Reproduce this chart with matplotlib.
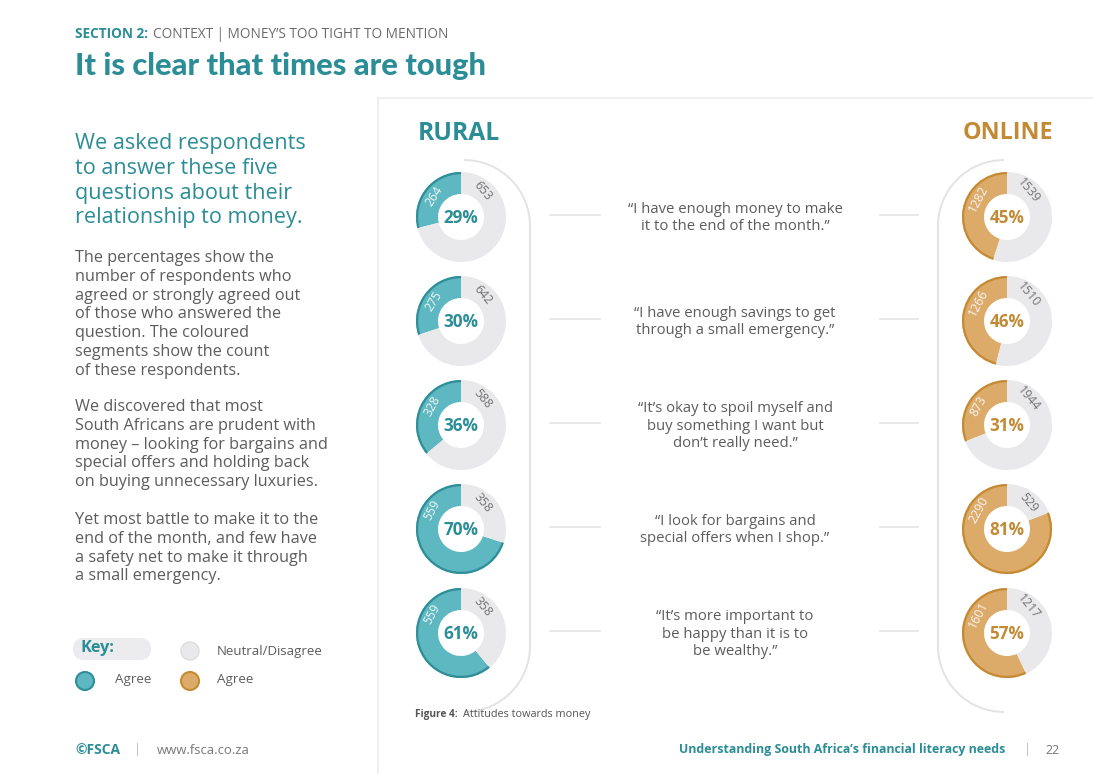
import matplotlib.pyplot as plt
from matplotlib.patches import Arc, Circle, FancyBboxPatch
import numpy as np

W, H = 1093, 774
plt.rcParams['font.family'] = ['Open Sans', 'DejaVu Sans']

# colours
teal = '#5db8c1'
teal_dark = '#2f8e98'
teal_text = '#2b8d96'
gold = '#ddab69'
gold_dark = '#c68a33'
gold_text = '#c28a35'
grey_seg = '#e9e9ec'
grey_text = '#5c5c5c'
line_grey = '#e3e3e3'

# data
questions = [
    ['\u201cI have enough money to make', 'it to the end of the month.\u201d'],
    ['\u201cI have enough savings to get', 'through a small emergency.\u201d'],
    ['\u201cIt\u2019s okay to spoil myself and', 'buy something I want but',
     'don\u2019t really need.\u201d'],
    ['\u201cI look for bargains and', 'special offers when I shop.\u201d'],
    ['\u201cIt\u2019s more important to', 'be happy than it is to',
     'be wealthy.\u201d'],
]
rural_pct = [29, 30, 36, 70, 61]
rural_agree = [264, 275, 328, 559, 559]
rural_neutral = [653, 642, 588, 358, 358]
online_pct = [45, 46, 31, 81, 57]
online_agree = [1282, 1266, 873, 2290, 1601]
online_neutral = [1539, 1510, 1944, 529, 1217]

intro = ['We asked respondents', 'to answer these five',
         'questions about their', 'relationship to money.']
paras = [
    ['The percentages show the', 'number of respondents who',
     'agreed or strongly agreed out', 'of those who answered the',
     'question. The coloured', 'segments show the count',
     'of these respondents.'],
    ['We discovered that most', 'South Africans are prudent with',
     'money \u2013 looking for bargains and', 'special offers and holding back',
     'on buying unnecessary luxuries.'],
    ['Yet most battle to make it to the', 'end of the month, and few have',
     'a safety net to make it through', 'a small emergency.'],
]

# layout (pixel coords, measured from the top)
row_y = [217, 321, 425, 529, 633]
rural_x, online_x = 461, 1007
R, RW = 45, 22


def Y(y):
    return H - y


fig = plt.figure(figsize=(W / 100, H / 100), dpi=100)
ax = fig.add_axes([0, 0, 1, 1])
ax.set_xlim(0, W)
ax.set_ylim(0, H)
renderer = fig.canvas.get_renderer()


def fit(lines, width, **kw):
    # font size that makes the widest line about `width` pixels wide
    w = 0
    for s in lines:
        t = ax.text(0, 0, s, fontsize=10, **kw)
        w = max(w, t.get_window_extent(renderer).width)
        t.remove()
    return 10 * width / w


def block(x, y0, lines, dy, size, **kw):
    for k, s in enumerate(lines):
        ax.text(x, Y(y0 + k * dy), s, fontsize=size, va='center', **kw)


def text_w(x, y, s, width, **kw):
    size = fit([s], width, **{k: v for k, v in kw.items()
                              if k in ('fontweight', 'family')})
    return ax.text(x, Y(y), s, fontsize=size, va='center', **kw)


def donut(cx, cy, pct, n_agree, n_neut, fill, edge, tcol):
    c = (cx, Y(cy))
    ax.pie([pct, 100 - pct], colors=[fill, grey_seg], startangle=90,
           counterclock=True, center=c, radius=R,
           wedgeprops=dict(width=RW, linewidth=0))
    ax.pie([pct, 100 - pct], colors=[edge, 'none'], startangle=90,
           counterclock=True, center=c, radius=R,
           wedgeprops=dict(width=2.2, linewidth=0))
    ax.text(cx, Y(cy + 1), f'{pct}%', ha='center', va='center',
            fontsize=12.3, fontweight='bold', color=tcol)
    rl = R - RW / 2
    a = min(90 + pct * 1.8, 147)
    t = np.radians(a)
    ax.text(cx + rl * np.cos(t), Y(cy) + rl * np.sin(t), str(n_agree),
            rotation=a - 85, ha='center', va='center', fontsize=8.8,
            color='#f6f6f6', rotation_mode='anchor')
    b = 50
    t = np.radians(b)
    ax.text(cx + rl * np.cos(t), Y(cy) + rl * np.sin(t), str(n_neut),
            rotation=b - 100, ha='center', va='center', fontsize=8.8,
            color='#727272', rotation_mode='anchor')


q_size = fit(questions[0], 214)
for i, y in enumerate(row_y):
    donut(rural_x, y, rural_pct[i], rural_agree[i], rural_neutral[i],
          teal, teal_dark, teal_text)
    donut(online_x, y, online_pct[i], online_agree[i], online_neutral[i],
          gold, gold_dark, gold_text)
    n = len(questions[i])
    block(735, y + 1 - (n - 1) * 17.5 / 2, questions[i], 17.5, q_size,
          ha='center', color=grey_text)
    ax.plot([550, 600], [Y(y - 2)] * 2, color=line_grey, lw=1.2)
    ax.plot([880, 918], [Y(y - 2)] * 2, color=line_grey, lw=1.2)

# brackets around donut columns
br = 66
for cx, side in [(rural_x + 3, 1), (online_x - 3, -1)]:
    xv = cx + side * br
    ax.plot([xv, xv], [Y(226), Y(646)], color=line_grey, lw=1.4)
    if side == 1:
        arcs = [(226, 0, 90), (646, 270, 360)]
    else:
        arcs = [(226, 90, 180), (646, 180, 270)]
    for yy, t1, t2 in arcs:
        ax.add_patch(Arc((cx, Y(yy)), 2 * br, 2 * br, theta1=t1, theta2=t2,
                         color=line_grey, lw=1.4))

# panel border
ax.plot([378, 378], [Y(98), Y(774)], color='#ececec', lw=1.2)
ax.plot([378, W], [Y(98), Y(98)], color='#ececec', lw=1.2)

text_w(418, 133, 'RURAL', 82, ha='left', fontweight='bold', color=teal_text)
text_w(1053, 133, 'ONLINE', 90, ha='right', fontweight='bold',
       color=gold_text)
text_w(415, 715, 'Figure 4:', 43, ha='left', fontweight='bold',
       color='#555555')
text_w(463, 715, 'Attitudes towards money', 128, ha='left', color='#555555')

# header
text_w(75, 34, 'SECTION 2:', 73, ha='left', fontweight='bold',
       color=teal_text)
text_w(153, 34, 'CONTEXT | MONEY\u2019S TOO TIGHT TO MENTION', 296, ha='left',
       color='#6a6a6a')
text_w(75, 66, 'It is clear that times are tough', 411, ha='left',
       fontweight='black', family=['Lato', 'DejaVu Sans'], color=teal_text)

# left column
block(75, 143, intro, 25, fit(intro, 230), ha='left', color=teal_text)
p_size = fit(paras[1], 252)
for lines, y0 in zip(paras, [258, 407, 520]):
    block(75, y0, lines, 18.8, p_size, ha='left', color=grey_text)

# key
ax.add_patch(FancyBboxPatch((73, Y(660)), 78, 22,
                            boxstyle='round,pad=0,rounding_size=11',
                            fc='#ececef', ec='none'))
text_w(80, 648, 'Key:', 34, ha='left', fontweight='bold', color=teal_text)
ax.add_patch(Circle((190, Y(651)), 9, fc='#e9e9ec', ec='#dddddd', lw=1))
text_w(217, 651, 'Neutral/Disagree', 106, ha='left', color=grey_text)
ax.add_patch(Circle((85, Y(681)), 9, fc=teal, ec=teal_dark, lw=1.5))
text_w(115, 680, 'Agree', 36, ha='left', color=grey_text)
ax.add_patch(Circle((190, Y(681)), 9, fc=gold, ec=gold_dark, lw=1.5))
text_w(217, 680, 'Agree', 36, ha='left', color=grey_text)

# footer
text_w(75, 750, '\u00a9FSCA', 45, ha='left', fontweight='bold',
       color=teal_text)
ax.text(137, Y(749), '|', ha='center', va='center', fontsize=9,
        color='#bbbbbb')
text_w(157, 750, 'www.fsca.co.za', 93, ha='left', color='#777777')
text_w(1005, 750, 'Understanding South Africa\u2019s financial literacy needs',
       327, ha='right', fontweight='bold', color=teal_text)
ax.text(1027, Y(749), '|', ha='center', va='center', fontsize=9,
        color='#bbbbbb')
ax.text(1045, Y(750), '22', ha='left', va='center', fontsize=9,
        color='#777777')

ax.set_xlim(0, W)
ax.set_ylim(0, H)
ax.set_aspect('equal')
ax.axis('off')
fig.savefig('out.png', dpi=100, facecolor='white')
